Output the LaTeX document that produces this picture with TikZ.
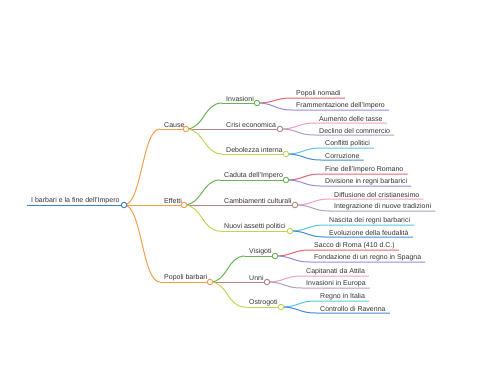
\documentclass[tikz,border=0pt]{standalone}
\usepackage{fontspec}
\setmainfont{Liberation Sans}
\usepackage{xcolor}
\usetikzlibrary{backgrounds}
\definecolor{ink}{rgb}{0.20,0.20,0.20}
\definecolor{broot}{rgb}{0.22,0.50,0.80}
\definecolor{borange}{rgb}{0.96,0.62,0.30}
\definecolor{bgreen}{rgb}{0.42,0.70,0.32}
\definecolor{bbrown}{rgb}{0.70,0.52,0.52}
\definecolor{byellow}{rgb}{0.78,0.82,0.35}
\definecolor{bred}{rgb}{0.88,0.40,0.44}
\definecolor{bpurple}{rgb}{0.58,0.55,0.86}
\definecolor{bpink}{rgb}{0.94,0.62,0.78}
\definecolor{bmauve}{rgb}{0.70,0.62,0.74}
\definecolor{bcyan}{rgb}{0.35,0.78,0.86}
\definecolor{bblue}{rgb}{0.27,0.55,0.82}

\begin{document}
\begin{tikzpicture}[x=1pt,y=-1pt,
  font=\fontsize{7}{8}\selectfont,
  lbl/.style={anchor=south west,inner xsep=4pt,inner ysep=1.2pt,text=ink},
  dot/.style={circle,draw,fill=white,line width=0.9pt,inner sep=0pt,minimum size=5.5pt},
  br/.style={line width=1pt},
  link/.style={br,to path={.. controls +(18,0) and +(-18,0) .. (\tikztotarget)}}]

\useasboundingbox (0,0) rectangle (480,384);

% root and first level
\node[lbl] (root-t) at (27,205) {I barbari e la fine dell'Impero};
\node[dot,draw=broot] (root) at (124,205) {};

\node[lbl] (cause-t) at (160,129) {Cause};
\node[dot,draw=borange] (cause) at (186,129) {};
\node[lbl] (eff-t) at (160,205) {Effetti};
\node[dot,draw=borange] (eff) at (184,205) {};
\node[lbl] (pop-t) at (160,282) {Popoli barbari};
\node[dot,draw=borange] (pop) at (210,282) {};

% second level
\node[lbl] (inv-t) at (222,103) {Invasioni};
\node[dot,draw=bgreen] (inv) at (257,103) {};
\node[lbl] (cri-t) at (222,129) {Crisi economica};
\node[dot,draw=bbrown] (cri) at (280,129) {};
\node[lbl] (deb-t) at (222,154) {Debolezza interna};
\node[dot,draw=byellow] (deb) at (286,154) {};

\node[lbl] (cad-t) at (220,180) {Caduta dell'Impero};
\node[dot,draw=bgreen] (cad) at (286,180) {};
\node[lbl] (cam-t) at (220,205) {Cambiamenti culturali};
\node[dot,draw=bbrown] (cam) at (295,205) {};
\node[lbl] (nuo-t) at (220,231) {Nuovi assetti politici};
\node[dot,draw=byellow] (nuo) at (290,231) {};

\node[lbl] (vis-t) at (245,256) {Visigoti};
\node[dot,draw=bgreen] (vis) at (275,256) {};
\node[lbl] (unn-t) at (245,282) {Unni};
\node[dot,draw=bbrown] (unn) at (267,282) {};
\node[lbl] (ost-t) at (245,307) {Ostrogoti};
\node[dot,draw=byellow] (ost) at (281,307) {};

% leaves
\node[lbl] (inv-a) at (292,98) {Popoli nomadi};
\node[lbl] (inv-b) at (292,110) {Frammentazione dell'Impero};
\node[lbl] (cri-a) at (315,123) {Aumento delle tasse};
\node[lbl] (cri-b) at (315,135) {Declino del commercio};
\node[lbl] (deb-a) at (321,148) {Conflitti politici};
\node[lbl] (deb-b) at (321,160) {Corruzione};

\node[lbl] (cad-a) at (321,174) {Fine dell'Impero Romano};
\node[lbl] (cad-b) at (321,186) {Divisione in regni barbarici};
\node[lbl] (cam-a) at (330,199) {Diffusione del cristianesimo};
\node[lbl] (cam-b) at (330,211) {Integrazione di nuove tradizioni};
\node[lbl] (nuo-a) at (325,225) {Nascita dei regni barbarici};
\node[lbl] (nuo-b) at (325,237) {Evoluzione della feudalità};

\node[lbl] (vis-a) at (310,250) {Sacco di Roma (410 d.C.)};
\node[lbl] (vis-b) at (310,262) {Fondazione di un regno in Spagna};
\node[lbl] (unn-a) at (302,276) {Capitanati da Attila};
\node[lbl] (unn-b) at (302,288) {Invasioni in Europa};
\node[lbl] (ost-a) at (316,301) {Regno in Italia};
\node[lbl] (ost-b) at (316,313) {Controllo di Ravenna};

\begin{scope}[on background layer]
  % underlines
  \draw[br,broot] (root-t.south west) -- (root.center);
  \foreach \n in {cause,eff,pop}
    \draw[br,borange] (\n-t.south west) -- (\n.center);
  \foreach \n in {inv,cad,vis}
    \draw[br,bgreen] (\n-t.south west) -- (\n.center);
  \foreach \n in {cri,cam,unn}
    \draw[br,bbrown] (\n-t.south west) -- (\n.center);
  \foreach \n in {deb,nuo,ost}
    \draw[br,byellow] (\n-t.south west) -- (\n.center);

  % first level links
  \foreach \n in {cause,eff,pop}
    \draw[link,borange] (root.center) to (\n-t.south west);
  % second level links
  \foreach \p/\a/\b/\c in {cause/inv/cri/deb,eff/cad/cam/nuo,pop/vis/unn/ost}{
    \draw[link,bgreen] (\p.center) to (\a-t.south west);
    \draw[link,bbrown] (\p.center) to (\b-t.south west);
    \draw[link,byellow] (\p.center) to (\c-t.south west);
  }
  % leaf links and underlines
  \foreach \p/\ca/\cb in {inv/bred/bpurple,cri/bpink/bmauve,deb/bcyan/bblue,
      cad/bred/bpurple,cam/bpink/bmauve,nuo/bcyan/bblue,
      vis/bred/bpurple,unn/bpink/bmauve,ost/bcyan/bblue}{
    \draw[link,\ca] (\p.center) to (\p-a.south west) -- (\p-a.south east);
    \draw[link,\cb] (\p.center) to (\p-b.south west) -- (\p-b.south east);
  }
\end{scope}
\end{tikzpicture}
\end{document}
